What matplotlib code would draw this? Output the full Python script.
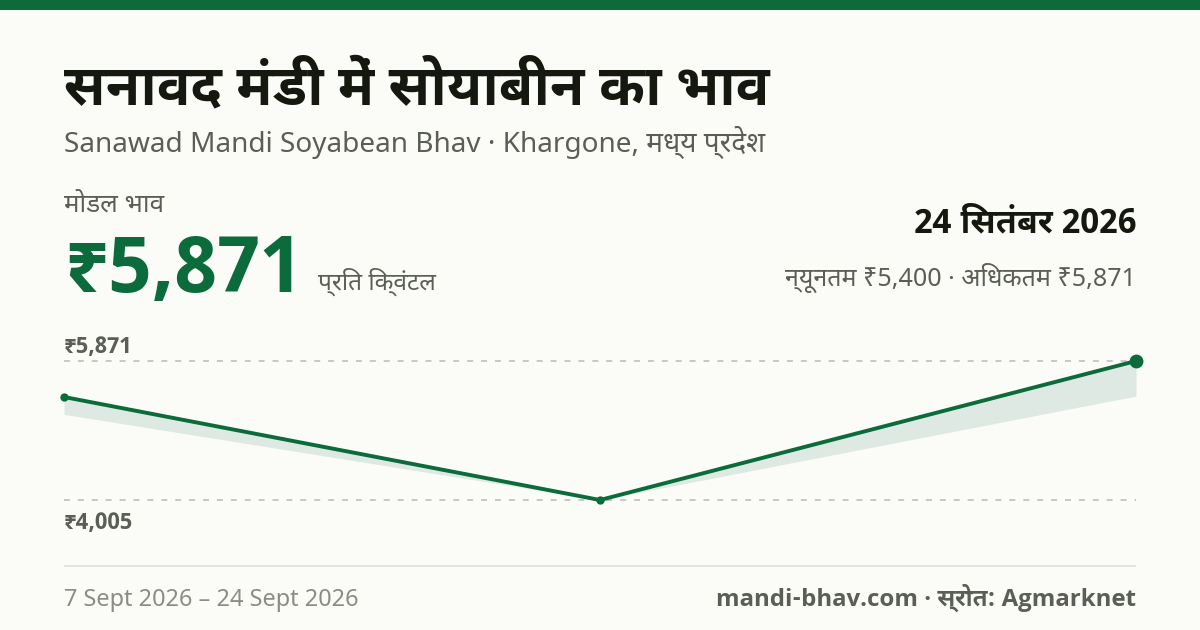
"""Sanawad mandi soyabean price card."""
import re
import matplotlib; matplotlib.use('Agg')
import matplotlib.pyplot as plt
from matplotlib.patches import Rectangle

FONT_REG = ['Noto Sans', 'DejaVu Sans']
FONT_BOLD = ['Noto Sans Devanagari UI', 'Open Sans', 'Noto Sans', 'DejaVu Sans']
plt.rcParams['font.family'] = FONT_REG

C_BG = '#FBFCF8'; C_GREEN = '#0B6B3A'; C_DARK = '#15180F'
C_GREY = '#5A5E54'; C_LIGHT = '#8A8D84'; C_DASH = '#B8BAB2'; C_RULE = '#E2E4DE'
C_FILL = '#DFE9E3'

dates = ['7 Sept', 'mid Sept', '24 Sept']
modal_price = [5388, 4005, 5871]
min_price = [5155, 4005, 5400]
guide_levels = [5871, 4005]
guide_labels = ['₹5,871', '₹4,005']

W, H = 1200, 630
fig = plt.figure(figsize=(W / 100, H / 100), dpi=100, facecolor=C_BG)


def visual(s):
    # matplotlib has no shaping: the i-matra has to come before its consonants
    return re.sub('((?:[क-ह]्)*[क-ह])ि', lambda m: 'ि' + m.group(1), s)


def px(x, y, s, size, color, bold=False, ha='left'):
    # x, y in image pixels, y is the text baseline, size in px
    fig.text(x / W, 1 - y / H, visual(s), fontsize=size * 0.72, color=color,
             family=FONT_BOLD if bold else FONT_REG,
             fontweight='bold' if bold else 'normal', ha=ha, va='baseline')


fig.add_artist(Rectangle((0, 1 - 10 / H), 1, 10 / H, transform=fig.transFigure,
                         color=C_GREEN, lw=0))

px(64, 104, 'सनावद मंडी में सोयाबीन का भाव', 56, C_DARK, True)
px(64, 152, 'Sanawad Mandi Soyabean Bhav · Khargone, मध्य प्रदेश', 28, C_GREY)
px(64, 212, 'मोडल भाव', 26, C_GREY)
px(64, 292, '₹5,871', 78, C_GREEN, True)
px(318, 290, 'प्रति क्विंटल', 24.5, C_GREY)
px(1136, 232, '24 सितंबर 2026', 34, C_DARK, True, ha='right')
px(1136, 286, 'न्यूनतम ₹5,400 · अधिकतम ₹5,871', 25.1, C_GREY, ha='right')

ax = fig.add_axes([64 / W, 1 - 500 / H, (1136 - 64) / W, (500 - 361) / H])
ax.set_xlim(0, len(dates) - 1)
ax.set_ylim(guide_levels[1], guide_levels[0])
ax.axis('off')
xs = list(range(len(dates)))
for lev in guide_levels:
    ax.axhline(lev, color=C_DASH, lw=1.1, dashes=(3.9, 5.2), clip_on=False)
ax.fill_between(xs, min_price, modal_price, color=C_FILL, lw=0, clip_on=False)
ax.plot(xs, modal_price, color=C_GREEN, lw=2.8, clip_on=False, solid_capstyle='round')
ax.plot(xs[:2], modal_price[:2], 'o', color=C_GREEN, ms=6, mew=0, clip_on=False)
ax.plot(xs[-1:], modal_price[-1:], 'o', color=C_GREEN, ms=10, mew=0, clip_on=False)

px(64, 352.5, guide_labels[0], 22.5, C_GREY, True)
px(64, 528.5, guide_labels[1], 22.5, C_GREY, True)

fig.add_artist(Rectangle((64 / W, 1 - 567 / H), (1136 - 64) / W, 2 / H,
                         transform=fig.transFigure, color=C_RULE, lw=0))
px(64, 606, '7 Sept 2026 – 24 Sept 2026', 23.5, C_LIGHT)
px(1136, 606, 'mandi-bhav.com · स्रोत: Agmarknet', 24, C_GREY, True, ha='right')

fig.savefig('out.png', dpi=100, facecolor=C_BG)
